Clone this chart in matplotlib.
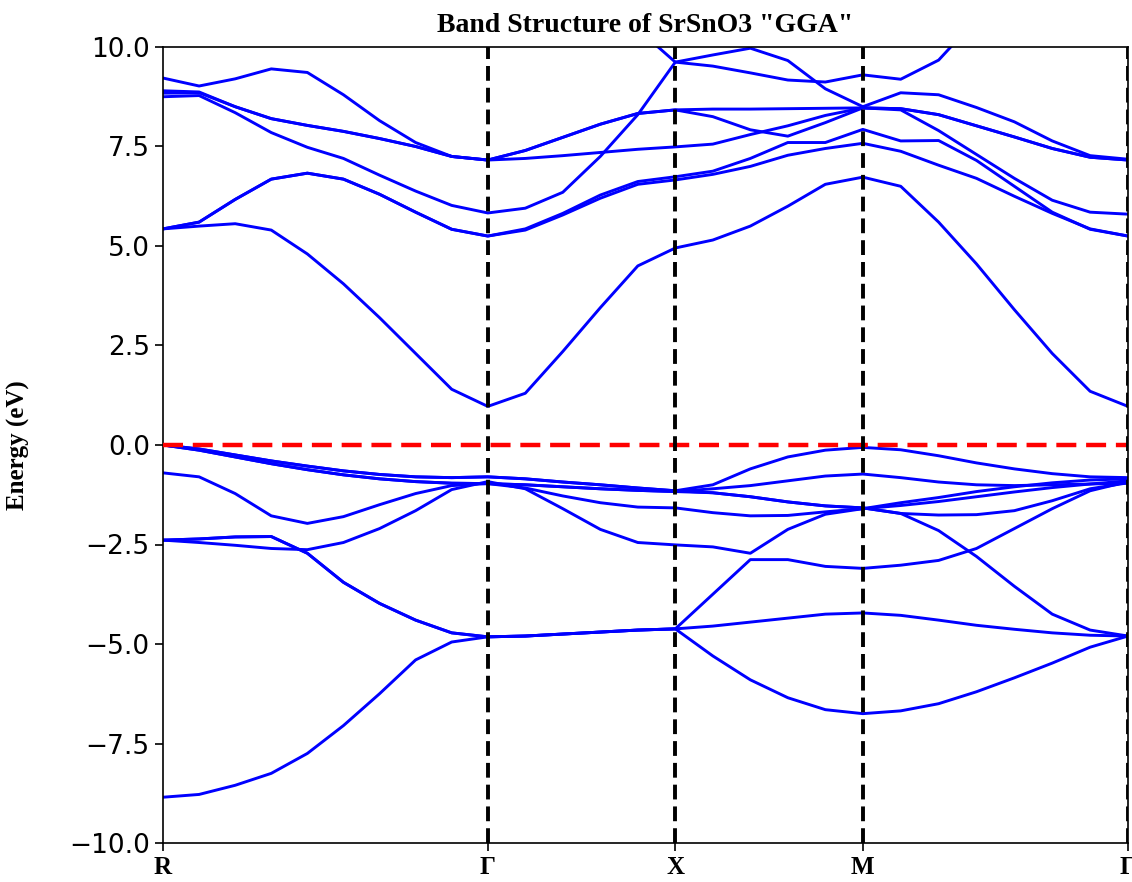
import numpy as np
import matplotlib.pyplot as plt

# high-symmetry path R-Γ-X-M-Γ of the cubic cell (units of 2pi/a)
kpt_labels = ['R', 'Γ', 'X', 'M', 'Γ']
kpt_dist = [0.0, 0.866, 1.366, 1.866, 2.573]
seg_steps = [9, 5, 5, 7]

nan = np.nan

# band energies in eV (E_F = 0), listed as R-Γ (10 pts) | Γ-X (5) | X-M (5) | M-Γ (7)
# valence bands
val_1 = [0.0, -0.1, -0.25, -0.4, -0.53, -0.65, -0.74, -0.8, -0.82, -0.8,
         -0.85, -0.93, -1.0, -1.08, -1.15,
         -1.0, -0.6, -0.3, -0.13, -0.06,
         -0.12, -0.27, -0.45, -0.6, -0.72, -0.8, -0.82]
val_2 = [0.0, -0.13, -0.3, -0.47, -0.62, -0.75, -0.85, -0.92, -0.96, -0.97,
         -1.0, -1.05, -1.1, -1.14, -1.17,
         -1.1, -1.02, -0.9, -0.78, -0.73,
         -0.82, -0.93, -1.0, -1.02, -1.0, -0.98, -0.96]
val_3 = [-0.7, -0.8, -1.22, -1.78, -1.97, -1.8, -1.5, -1.22, -1.02, -0.97,
         -1.08, -1.28, -1.45, -1.56, -1.58,
         -1.7, -1.78, -1.77, -1.68, -1.6,
         -1.45, -1.32, -1.17, -1.05, -0.95, -0.88, -0.85]
val_4 = [-2.39, -2.45, -2.52, -2.6, -2.63, -2.45, -2.1, -1.65, -1.12, -0.92,
         -1.1, -1.6, -2.12, -2.45, -2.51,
         -2.56, -2.72, -2.12, -1.74, -1.6,
         -1.52, -1.42, -1.3, -1.18, -1.07, -0.98, -0.9]
val_5 = [0.0, -0.13, -0.3, -0.47, -0.62, -0.75, -0.85, -0.92, -0.96, -0.97,
         -1.0, -1.05, -1.1, -1.14, -1.17,
         -1.2, -1.3, -1.43, -1.53, -1.58,
         -1.72, -1.76, -1.75, -1.65, -1.4, -1.1, -0.95]
val_6 = [0.0, -0.1, -0.25, -0.4, -0.53, -0.65, -0.74, -0.8, -0.82, -0.8,
         -0.85, -0.93, -1.0, -1.08, -1.15,
         -1.2, -1.3, -1.43, -1.53, -1.58,
         -1.72, -2.15, -2.8, -3.55, -4.25, -4.65, -4.8]
val_7 = [-2.39, -2.36, -2.31, -2.3, -2.72, -3.45, -3.98, -4.4, -4.72, -4.82,
         -4.8, -4.75, -4.7, -4.65, -4.62,
         -3.75, -2.88, -2.88, -3.05, -3.1,
         -3.02, -2.9, -2.6, -2.1, -1.6, -1.15, -0.92]
val_8 = [-2.39, -2.36, -2.31, -2.3, -2.72, -3.45, -3.98, -4.4, -4.72, -4.82,
         -4.8, -4.75, -4.7, -4.65, -4.62,
         -4.55, -4.45, -4.35, -4.25, -4.22,
         -4.28, -4.4, -4.53, -4.63, -4.72, -4.78, -4.8]
val_9 = [-8.85, -8.78, -8.55, -8.25, -7.75, -7.05, -6.25, -5.4, -4.95, -4.82,
         -4.8, -4.75, -4.7, -4.65, -4.62,
         -5.3, -5.9, -6.35, -6.65, -6.75,
         -6.68, -6.5, -6.2, -5.85, -5.48, -5.08, -4.8]

# conduction bands
cond_1 = [5.43, 5.5, 5.56, 5.4, 4.8, 4.05, 3.2, 2.3, 1.4, 0.97,
          1.3, 2.35, 3.45, 4.5, 4.95,
          5.15, 5.5, 6.0, 6.55, 6.73,
          6.5, 5.6, 4.55, 3.4, 2.3, 1.35, 0.97]
cond_2 = [5.43, 5.6, 6.17, 6.68, 6.83, 6.68, 6.3, 5.85, 5.42, 5.25,
          5.4, 5.78, 6.2, 6.55, 6.66,
          6.8, 7.0, 7.28, 7.45, 7.58,
          7.38, 7.03, 6.7, 6.25, 5.82, 5.43, 5.25]
cond_3 = [5.43, 5.6, 6.17, 6.68, 6.83, 6.68, 6.3, 5.85, 5.42, 5.25,
          5.43, 5.82, 6.28, 6.62, 6.74,
          6.88, 7.2, 7.6, 7.6, 7.93,
          7.64, 7.65, 7.15, 6.5, 5.85, 5.42, 5.25]
cond_4 = [8.75, 8.78, 8.35, 7.85, 7.48, 7.2, 6.78, 6.38, 6.02, 5.83,
          5.95, 6.35, 7.25, 8.3, 9.62,
          9.8, 9.97, 9.66, 8.95, 8.5,
          8.85, 8.8, 8.48, 8.12, 7.64, 7.27, 7.18]
cond_5 = [8.9, 8.87, 8.5, 8.2, 8.03, 7.88, 7.7, 7.5, 7.25, 7.16,
          7.2, 7.27, 7.35, 7.43, 7.49,
          7.56, 7.8, 8.02, 8.28, 8.47,
          8.42, 7.9, 7.3, 6.7, 6.15, 5.85, 5.8]
cond_6 = [9.22, 9.02, 9.2, 9.45, 9.36, 8.8, 8.15, 7.6, 7.25, 7.16,
          7.4, 7.73, 8.06, 8.33, 8.42,
          8.25, 7.92, 7.76, 8.1, 8.47,
          8.45, 8.3, 8.02, 7.74, 7.45, 7.23, 7.16]
cond_7 = [8.84, 8.85, 8.5, 8.2, 8.03, 7.88, 7.7, 7.5, 7.25, 7.16,
          7.4, 7.73, 8.06, 8.33, 8.42,
          8.44, 8.44, 8.45, 8.46, 8.47,
          8.45, 8.3, 8.02, 7.74, 7.45, 7.23, 7.16]
cond_8 = [nan, nan, nan, nan, nan, nan, nan, nan, nan, nan,
          nan, nan, nan, 10.45, 9.62,
          9.52, 9.35, 9.17, 9.12, 9.3,
          9.19, 9.67, 10.7, nan, nan, nan, nan]

bands = [val_1, val_2, val_3, val_4, val_5, val_6, val_7, val_8, val_9,
         cond_1, cond_2, cond_3, cond_4, cond_5, cond_6, cond_7, cond_8]

# k-grid along the path
k = [kpt_dist[0]]
for i, n in enumerate(seg_steps):
    k.extend(np.linspace(kpt_dist[i], kpt_dist[i + 1], n + 1)[1:])
k = np.array(k)

serif_bold = dict(family='Liberation Serif', weight='bold')

fig = plt.figure(figsize=(11.32, 8.82), dpi=100)
ax = fig.add_axes([163 / 1132, 1 - 843 / 882, 965 / 1132, 796 / 882])

for e in bands:
    ax.plot(k, e, color='blue', lw=2.1)

# Fermi level and high-symmetry points
ax.axhline(0, color='red', lw=3.2, ls=(0, (4.5, 2.2)), zorder=3)
for kd in kpt_dist[1:]:
    ax.axvline(kd, color='black', lw=2.8, ls=(0, (3.8, 1.8)), zorder=3)

ax.set_xlim(kpt_dist[0], kpt_dist[-1])
ax.set_ylim(-10, 10)
ax.set_xticks(kpt_dist)
ax.set_xticklabels(kpt_labels, fontsize=18, **serif_bold)
ax.set_yticks(np.arange(-10, 10.1, 2.5))
ax.tick_params(axis='y', labelsize=19)
ax.tick_params(length=6, width=1.2)
for s in ax.spines.values():
    s.set_linewidth(1.2)

ax.set_ylabel('Energy (eV)', fontsize=18, **serif_bold)
ax.yaxis.set_label_coords(-0.138, 0.5)
ax.set_title('Band Structure of SrSnO3 "GGA"', fontsize=20, pad=11, **serif_bold)

fig.savefig('out.png', dpi=100)
